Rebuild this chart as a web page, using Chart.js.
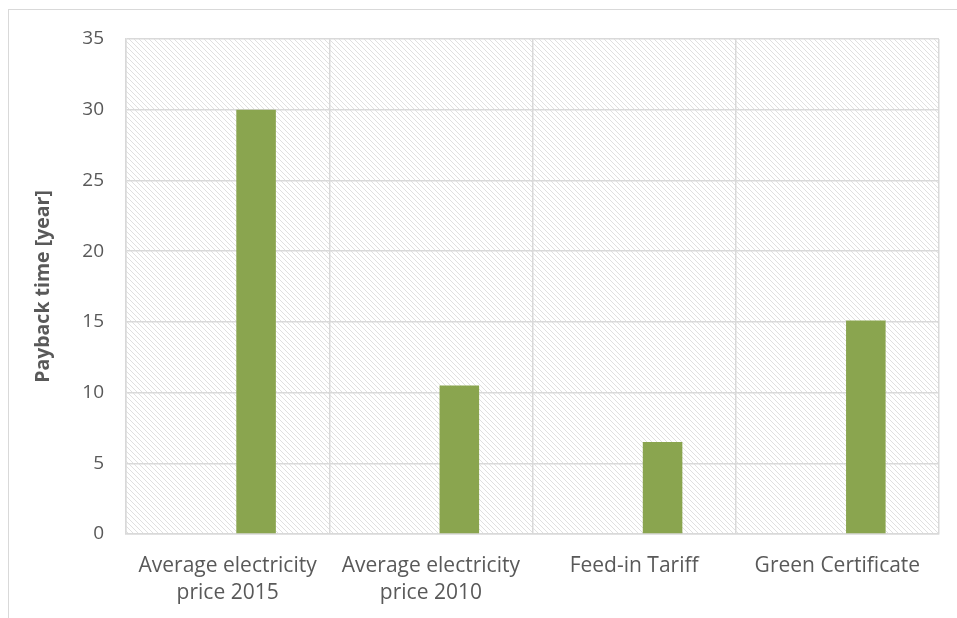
<!DOCTYPE html>
<html>
<head>
<meta charset="utf-8">
<script src="https://cdn.jsdelivr.net/npm/chart.js@4"></script>
<style>
  body { margin: 0; background: #fff; }
  #wrap { position: relative; width: 957px; height: 618px; overflow: hidden; }
  #frame { position: absolute; left: 8px; top: 9px; width: 1000px; height: 700px;
           border-left: 1px solid #d9d9d9; border-top: 1px solid #d9d9d9; }
  canvas { position: absolute; left: 0; top: 0; }
</style>
</head>
<body>
<div id="wrap">
  <div id="frame"></div>
  <canvas id="myChart" width="957" height="618"></canvas>
</div>
<script>
const categories = [
  ['Average electricity', 'price 2015'],
  ['Average electricity', 'price 2010'],
  'Feed-in Tariff',
  'Green Certificate'
];
const emptySeries = [0, 0, 0, 0];
const paybackYears = [30, 10.5, 6.5, 15.1];
const yTicks = [0, 5, 10, 15, 20, 25, 30, 35];

function hatch() {
  const c = document.createElement('canvas');
  c.width = 5; c.height = 5;
  const g = c.getContext('2d');
  g.fillStyle = '#ffffff';
  g.fillRect(0, 0, 5, 5);
  g.strokeStyle = '#e0e0e0';
  g.lineWidth = 1;
  g.beginPath();
  g.moveTo(-1, -1); g.lineTo(6, 6);
  g.moveTo(-1, 4); g.lineTo(1, 6);
  g.moveTo(4, -1); g.lineTo(6, 1);
  g.stroke();
  return g.createPattern(c, 'repeat');
}

const plotBackground = {
  id: 'plotBackground',
  beforeDraw(chart) {
    const { ctx, chartArea: a } = chart;
    ctx.save();
    ctx.fillStyle = hatch();
    ctx.fillRect(a.left, a.top, a.right - a.left, a.bottom - a.top);
    ctx.restore();
  }
};

const font = "'Open Sans', sans-serif";

new Chart(document.getElementById('myChart'), {
  type: 'bar',
  data: {
    labels: categories,
    datasets: [
      { label: 'empty', data: emptySeries, backgroundColor: 'rgba(0,0,0,0)' },
      { label: 'Payback time', data: paybackYears, backgroundColor: '#8aa54f', borderWidth: 0 }
    ]
  },
  options: {
    responsive: false,
    animation: false,
    categoryPercentage: 0.56,
    barPercentage: 0.695,
    layout: { padding: { top: 39, right: 18, left: 0, bottom: 0 } },
    plugins: { legend: { display: false }, tooltip: { enabled: false } },
    scales: {
      x: {
        grid: { color: '#d9d9d9', lineWidth: 1.5, drawTicks: false },
        border: { color: '#d9d9d9', width: 1.5 },
        ticks: { color: '#595959', font: { family: font, size: 21, lineHeight: 1.3 }, padding: 18, maxRotation: 0 },
        afterFit(scale) { scale.height = 84; }
      },
      y: {
        min: 0, max: 35,
        afterBuildTicks(scale) { scale.ticks = yTicks.map(v => ({ value: v })); },
        grid: { color: '#d9d9d9', lineWidth: 1.5, drawTicks: false },
        border: { color: '#d9d9d9', width: 1.5 },
        ticks: { color: '#595959', font: { family: font, size: 19 }, padding: 22 },
        title: { display: true, text: 'Payback time [year]', color: '#595959',
                 font: { family: font, size: 19.5, weight: 'bold' }, padding: { top: 32 } },
        afterFit(scale) { scale.width = 126; }
      }
    }
  },
  plugins: [plotBackground]
});
</script>
</body>
</html>
